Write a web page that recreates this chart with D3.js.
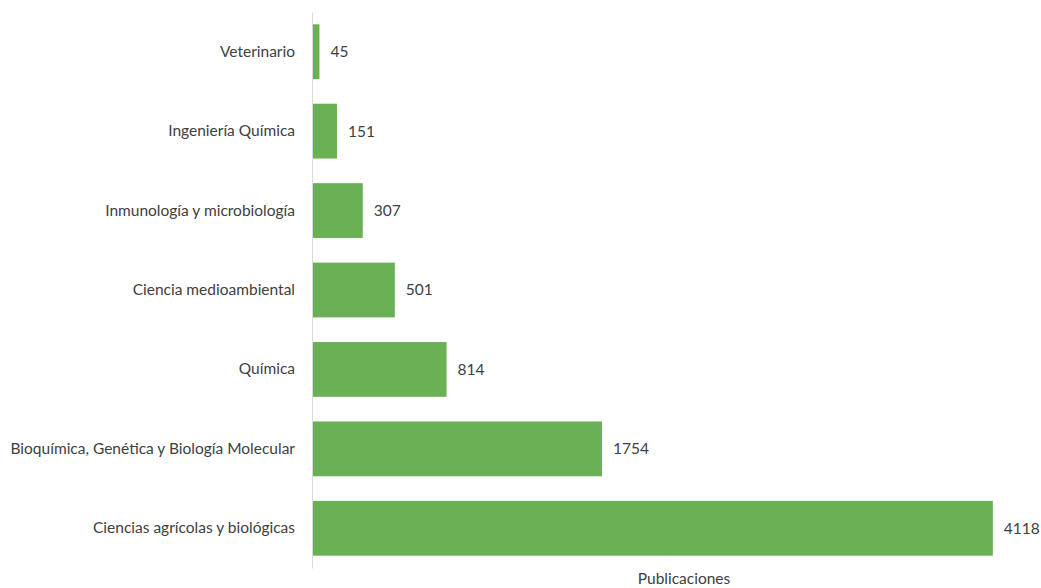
<!DOCTYPE html>
<html>
<head>
<meta charset="utf-8">
<script src="https://cdn.jsdelivr.net/npm/d3@7"></script>
<style>
  html, body { margin: 0; padding: 0; background: #fff; }
  svg { display: block; }
  text { font-family: Lato, "Open Sans", sans-serif; fill: #404040; }
</style>
</head>
<body>
<svg id="chart" width="1041" height="588"></svg>
<script>
// Publications by subject area
const categories = [
  "Veterinario",
  "Ingeniería Química",
  "Inmunología y microbiología",
  "Ciencia medioambiental",
  "Química",
  "Bioquímica, Genética y Biología Molecular",
  "Ciencias agrícolas y biológicas"
];
const values = [45, 151, 307, 501, 814, 1754, 4118];
const axisTitle = "Publicaciones";
const xMax = 4500;

const data = categories.map((c, i) => ({ category: c, value: values[i] }));

const svg = d3.select("#chart");
const plot = { left: 312, right: 1056, top: 12, bottom: 568 };
const fontSize = "15.5px";

const x = d3.scaleLinear().domain([0, xMax]).range([plot.left, plot.right]);
const y = d3.scaleBand().domain(categories).range([plot.top, plot.bottom])
  .paddingInner(0.31).paddingOuter(0.155);

// bars
svg.append("g").selectAll("rect").data(data).join("rect")
  .attr("x", x(0))
  .attr("y", d => y(d.category))
  .attr("width", d => x(d.value) - x(0))
  .attr("height", y.bandwidth())
  .attr("fill", "#6ab156");

// category axis
const yAxis = d3.axisLeft(y).tickSize(0).tickPadding(17);
const gy = svg.append("g").attr("transform", `translate(${x(0)},0)`).call(yAxis);
gy.select(".domain").attr("stroke", "#d9d9d9").attr("stroke-width", 1);
gy.selectAll("text").style("font-size", fontSize).style("fill", "#404040")
  .style("font-family", "Lato, 'Open Sans', sans-serif");

// value labels
svg.append("g").selectAll("text").data(data).join("text")
  .attr("x", d => x(d.value) + 11)
  .attr("y", d => y(d.category) + y.bandwidth() / 2)
  .attr("dy", "0.35em")
  .style("font-size", fontSize)
  .text(d => d.value);

// axis title
svg.append("text")
  .attr("x", (plot.left + plot.right) / 2)
  .attr("y", 584)
  .attr("text-anchor", "middle")
  .style("font-size", fontSize)
  .text(axisTitle);
</script>
</body>
</html>
